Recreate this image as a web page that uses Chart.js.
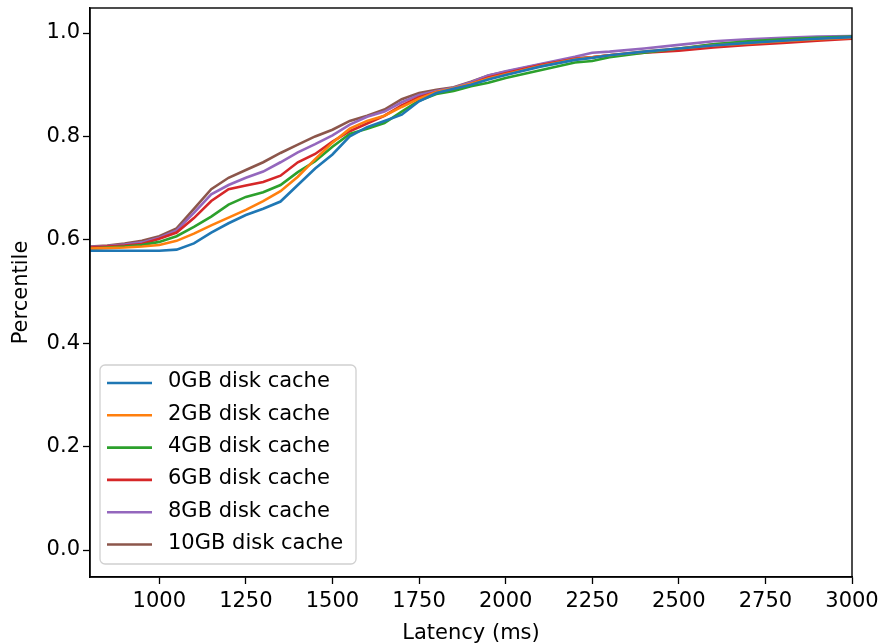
<!DOCTYPE html>
<html>
<head>
<meta charset="utf-8">
<script src="https://cdn.jsdelivr.net/npm/chart.js@4/dist/chart.umd.min.js"></script>
<style>
  html, body { margin: 0; padding: 0; background: #fff; }
  #wrap { width: 879px; height: 643px; position: relative; }
</style>
</head>
<body>
<div id="wrap"><canvas id="c" width="879" height="643"></canvas></div>
<script>
// ---- data ----
const latency = [800, 850, 900, 950, 1000, 1050, 1100, 1150, 1200, 1250, 1300, 1350, 1400, 1450, 1500, 1550, 1600, 1650, 1700, 1750, 1800, 1850, 1900, 1950, 2000, 2100, 2200, 2250, 2300, 2400, 2500, 2600, 2700, 2800, 2900, 3000];

const cache0GB  = [0.579, 0.579, 0.579, 0.579, 0.579, 0.581, 0.593, 0.614, 0.632, 0.648, 0.660, 0.674, 0.706, 0.738, 0.765, 0.800, 0.818, 0.830, 0.842, 0.868, 0.884, 0.892, 0.900, 0.910, 0.919, 0.935, 0.948, 0.952, 0.957, 0.964, 0.970, 0.976, 0.981, 0.985, 0.989, 0.992];
const cache2GB  = [0.583, 0.584, 0.585, 0.587, 0.590, 0.598, 0.612, 0.628, 0.643, 0.658, 0.675, 0.694, 0.722, 0.756, 0.788, 0.815, 0.830, 0.840, 0.857, 0.873, 0.886, 0.893, 0.902, 0.912, 0.920, 0.936, 0.949, 0.953, 0.957, 0.964, 0.970, 0.976, 0.980, 0.984, 0.988, 0.991];
const cache4GB  = [0.583, 0.585, 0.587, 0.590, 0.596, 0.607, 0.625, 0.645, 0.668, 0.683, 0.692, 0.706, 0.731, 0.752, 0.780, 0.805, 0.815, 0.826, 0.848, 0.869, 0.882, 0.888, 0.897, 0.904, 0.913, 0.928, 0.943, 0.946, 0.953, 0.962, 0.970, 0.978, 0.984, 0.988, 0.991, 0.993];
const cache6GB  = [0.585, 0.587, 0.589, 0.592, 0.602, 0.614, 0.642, 0.675, 0.698, 0.705, 0.712, 0.724, 0.750, 0.766, 0.790, 0.810, 0.825, 0.840, 0.860, 0.876, 0.886, 0.891, 0.902, 0.914, 0.922, 0.938, 0.950, 0.953, 0.957, 0.962, 0.966, 0.972, 0.977, 0.981, 0.985, 0.989];
const cache8GB  = [0.586, 0.588, 0.591, 0.595, 0.604, 0.618, 0.652, 0.688, 0.706, 0.720, 0.732, 0.750, 0.769, 0.785, 0.802, 0.823, 0.838, 0.848, 0.866, 0.880, 0.888, 0.894, 0.905, 0.918, 0.926, 0.940, 0.954, 0.962, 0.964, 0.970, 0.977, 0.984, 0.988, 0.991, 0.993, 0.994];
const cache10GB = [0.587, 0.589, 0.593, 0.598, 0.607, 0.622, 0.660, 0.698, 0.720, 0.735, 0.750, 0.768, 0.784, 0.800, 0.813, 0.830, 0.840, 0.852, 0.872, 0.884, 0.890, 0.895, 0.906, 0.918, 0.925, 0.939, 0.951, 0.953, 0.957, 0.963, 0.969, 0.978, 0.982, 0.985, 0.988, 0.990];

const seriesLabels = ['0GB disk cache', '2GB disk cache', '4GB disk cache', '6GB disk cache', '8GB disk cache', '10GB disk cache'];
const seriesValues = [cache0GB, cache2GB, cache4GB, cache6GB, cache8GB, cache10GB];
const xTickValues = [1000, 1250, 1500, 1750, 2000, 2250, 2500, 2750, 3000];
const yTickValues = [0.0, 0.2, 0.4, 0.6, 0.8, 1.0];
const xTitle = 'Latency (ms)';
const yTitle = 'Percentile';

// ---- styles ----
const colors = ['#1f77b4', '#ff7f0e', '#2ca02c', '#d62728', '#9467bd', '#8c564b'];
const FONT = 'DejaVu Sans';
const FS = 21;

const datasets = seriesValues.map((vals, i) => ({
  label: seriesLabels[i],
  data: latency.map((x, j) => ({ x: x, y: vals[j] })),
  borderColor: colors[i],
  backgroundColor: colors[i],
  borderWidth: 2.6,
  pointRadius: 0,
  tension: 0,
  fill: false
}));

const framePlugin = {
  id: 'frame',
  afterDatasetsDraw(chart) {
    const { ctx, chartArea: a } = chart;
    ctx.save();
    ctx.strokeStyle = '#000';
    ctx.lineWidth = 1.4;
    ctx.strokeRect(a.left, a.top, a.right - a.left, a.bottom - a.top);
    ctx.restore();
  }
};

const legendPlugin = {
  id: 'mplLegend',
  afterDraw(chart) {
    const { ctx } = chart;
    const a = chart.chartArea;
    const x0 = a.left + 10, y0 = 365, w = 256, h = 199, r = 5;
    ctx.save();
    ctx.beginPath();
    ctx.moveTo(x0 + r, y0);
    ctx.arcTo(x0 + w, y0, x0 + w, y0 + h, r);
    ctx.arcTo(x0 + w, y0 + h, x0, y0 + h, r);
    ctx.arcTo(x0, y0 + h, x0, y0, r);
    ctx.arcTo(x0, y0, x0 + w, y0, r);
    ctx.closePath();
    ctx.fillStyle = 'rgba(255,255,255,0.8)';
    ctx.fill();
    ctx.strokeStyle = '#d0d0d0';
    ctx.lineWidth = 1.3;
    ctx.stroke();
    ctx.font = FS + 'px "' + FONT + '"';
    ctx.textBaseline = 'middle';
    ctx.textAlign = 'left';
    chart.data.datasets.forEach((ds, i) => {
      const yy = 383 + i * 32.3;
      ctx.beginPath();
      ctx.strokeStyle = ds.borderColor;
      ctx.lineWidth = 2.6;
      ctx.moveTo(x0 + 7, yy);
      ctx.lineTo(x0 + 52, yy);
      ctx.stroke();
      ctx.fillStyle = '#000';
      ctx.fillText(ds.label, x0 + 68, yy - 1);
    });
    ctx.restore();
  }
};

new Chart(document.getElementById('c'), {
  type: 'line',
  data: { datasets },
  options: {
    responsive: false,
    animation: false,
    layout: { padding: { top: 8, right: 27, left: 0, bottom: 0 } },
    plugins: { legend: { display: false }, tooltip: { enabled: false } },
    scales: {
      x: {
        type: 'linear',
        min: 800,
        max: 3000,
        afterBuildTicks(s) { s.ticks = xTickValues.map(v => ({ value: v })); },
        afterFit(s) { s.height = 66; s.paddingLeft = 0; s.paddingRight = 0; s.paddingTop = 0; s.paddingBottom = 0; },
        ticks: {
          autoSkip: false, maxRotation: 0, minRotation: 0,
          color: '#000', padding: 5,
          font: { family: FONT, size: FS },
          callback: v => String(v)
        },
        grid: { drawOnChartArea: false, drawTicks: true, tickLength: 7, color: '#000', tickWidth: 1.3 },
        border: { display: true, color: '#000', width: 1.4 },
        title: { display: true, text: xTitle, color: '#000', font: { family: FONT, size: FS }, padding: { top: 0, bottom: -3 } }
      },
      y: {
        type: 'linear',
        min: -0.0522,
        max: 1.0484,
        afterBuildTicks(s) { s.ticks = yTickValues.map(v => ({ value: v })); },
        afterFit(s) { s.width = 90; s.paddingLeft = 0; s.paddingRight = 0; s.paddingTop = 0; s.paddingBottom = 0; },
        ticks: {
          autoSkip: false, color: '#000', padding: 3,
          font: { family: FONT, size: FS },
          callback: v => Number(v).toFixed(1)
        },
        grid: { drawOnChartArea: false, drawTicks: true, tickLength: 7, color: '#000', tickWidth: 1.3 },
        border: { display: true, color: '#000', width: 1.4 },
        title: { display: true, text: yTitle, color: '#000', font: { family: FONT, size: FS }, padding: { top: 9, bottom: 0 } }
      }
    }
  },
  plugins: [framePlugin, legendPlugin]
});
</script>
</body>
</html>
